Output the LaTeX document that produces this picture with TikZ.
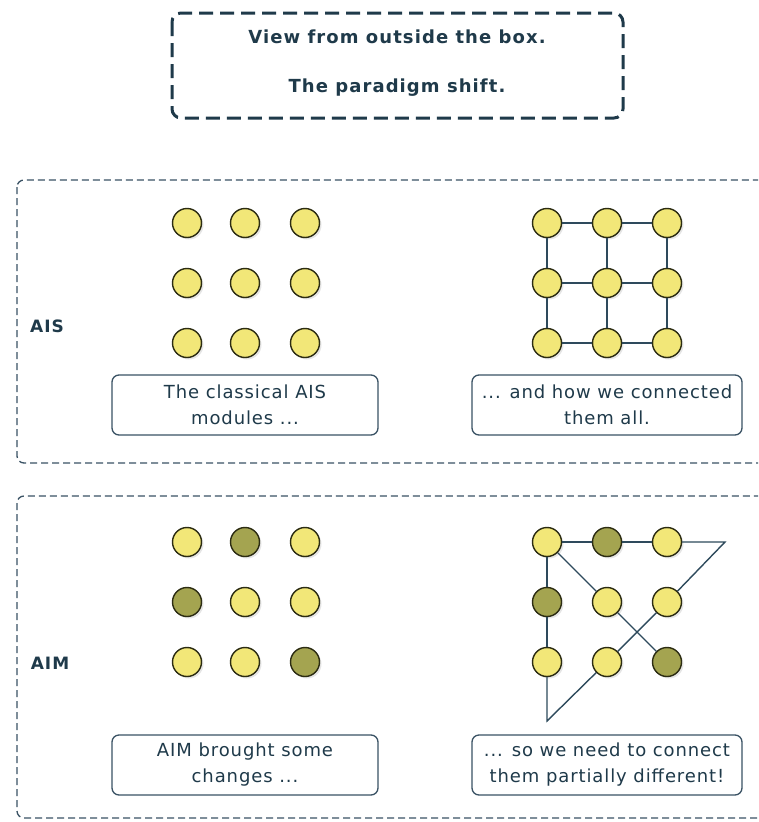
\documentclass[tikz,border=0pt]{standalone}
\usepackage{fontspec}
\setmainfont{DejaVu Sans}
\newfontfamily\capfont[LetterSpace=5]{DejaVu Sans}
\newfontfamily\titfont[LetterSpace=6]{DejaVu Sans}
\usetikzlibrary{shadows}
\definecolor{txt}{HTML}{1F3A4A}
\definecolor{frame}{HTML}{3A5264}
\definecolor{modfill}{HTML}{F2E778}
\definecolor{moddark}{HTML}{A4A450}
\definecolor{modline}{HTML}{2C2C12}
\definecolor{wire}{HTML}{2E4A5C}
\tikzset{
  x=1pt, y=-1pt,
  mod/.style={circle, draw=modline, line width=1.4pt, fill=modfill, minimum size=29pt, inner sep=0pt,
    drop shadow={shadow xshift=2pt, shadow yshift=-2pt, opacity=0.2}},
  modd/.style={mod, fill=moddark},
  wirel/.style={draw=wire, line width=1.4pt},
  panel/.style={draw=frame, line width=1.3pt, dash pattern=on 7pt off 4pt, rounded corners=7pt},
  capbox/.style={draw=frame, line width=1.3pt, rounded corners=7pt, fill=white},
  captext/.style={text=txt, align=center, font=\capfont\fontsize{18}{26}\selectfont},
  sectlabel/.style={text=txt, font=\titfont\fontsize{17}{18}\selectfont\bfseries},
  titletext/.style={text=txt, font=\titfont\fontsize{18}{20}\selectfont\bfseries}
}
\begin{document}
\begin{tikzpicture}
\useasboundingbox (0,0) rectangle (758,822);
\clip (0,0) rectangle (758,822);
\fill[white] (0,0) rectangle (758,822);
% title
\draw[draw=txt, line width=3pt, dash pattern=on 14pt off 7pt, rounded corners=9pt] (172,13) rectangle (623,118);
\node[titletext] (t1) at (397,37) {View from outside the box.};
\node[titletext] (t2) at (397,88) {The paradigm shift.};
% panels
\draw[panel] (17,180) rectangle (790,463);
\draw[panel] (17,496) rectangle (790,818);
\node[sectlabel] (ais) at (47,326) {AIS};
\node[sectlabel] (aim) at (50,663) {AIM};
% AIS left grid
\foreach \r/\yy in {1/223,2/283,3/343}{
  \foreach \c/\xx in {1/187,2/245,3/305}{
    \node[mod] (l\r\c) at (\xx,\yy) {};
  }
}
% AIS right grid
\foreach \r/\yy in {1/223,2/283,3/343}{
  \foreach \c/\xx in {1/547,2/607,3/667}{
    \node[mod] (g\r\c) at (\xx,\yy) {};
  }
}
\draw[wirel] (g11) -- (g12) -- (g13);
\draw[wirel] (g21) -- (g22) -- (g23);
\draw[wirel] (g31) -- (g32) -- (g33);
\draw[wirel] (g11) -- (g21) -- (g31);
\draw[wirel] (g12) -- (g22) -- (g32);
\draw[wirel] (g13) -- (g23) -- (g33);
% AIM left grid
\node[mod]  (m11) at (187,542) {};
\node[modd] (m12) at (245,542) {};
\node[mod]  (m13) at (305,542) {};
\node[modd] (m21) at (187,602) {};
\node[mod]  (m22) at (245,602) {};
\node[mod]  (m23) at (305,602) {};
\node[mod]  (m31) at (187,662) {};
\node[mod]  (m32) at (245,662) {};
\node[modd] (m33) at (305,662) {};
% AIM right grid
\node[mod]  (n11) at (547,542) {};
\node[modd] (n12) at (607,542) {};
\node[mod]  (n13) at (667,542) {};
\node[modd] (n21) at (547,602) {};
\node[mod]  (n22) at (607,602) {};
\node[mod]  (n23) at (667,602) {};
\node[mod]  (n31) at (547,662) {};
\node[mod]  (n32) at (607,662) {};
\node[modd] (n33) at (667,662) {};
\coordinate (c1) at (725,542);
\coordinate (c2) at (547,721);
\draw[wirel] (n11) -- (n12) -- (n13);
\draw[wirel, line join=miter] (n13.east) -- (c1) -- (n23);
\draw[wirel] (n23) -- (n32);
\draw[wirel, line join=miter] (n32) -- (c2) -- (n31.south);
\draw[wirel] (n31) -- (n21) -- (n11);
\draw[wirel] (n11) -- (n22) -- (n33);
% captions
\node[capbox, minimum width=266pt, minimum height=60pt] (b1) at (245,405) {};
\node[captext] (b1t) at (b1) {The classical AIS\\modules ...};
\node[capbox, minimum width=270pt, minimum height=60pt] (b2) at (607,405) {};
\node[captext] (b2t) at (b2) {... and how we connected\\them all.};
\node[capbox, minimum width=266pt, minimum height=60pt] (b3) at (245,765) {};
\node[captext] (b3t) at (b3) {AIM brought some\\changes ...};
\node[capbox, minimum width=270pt, minimum height=60pt] (b4) at (607,765) {};
\node[captext] (b4t) at (b4) {... so we need to connect\\them partially different!};
\end{tikzpicture}
\end{document}
